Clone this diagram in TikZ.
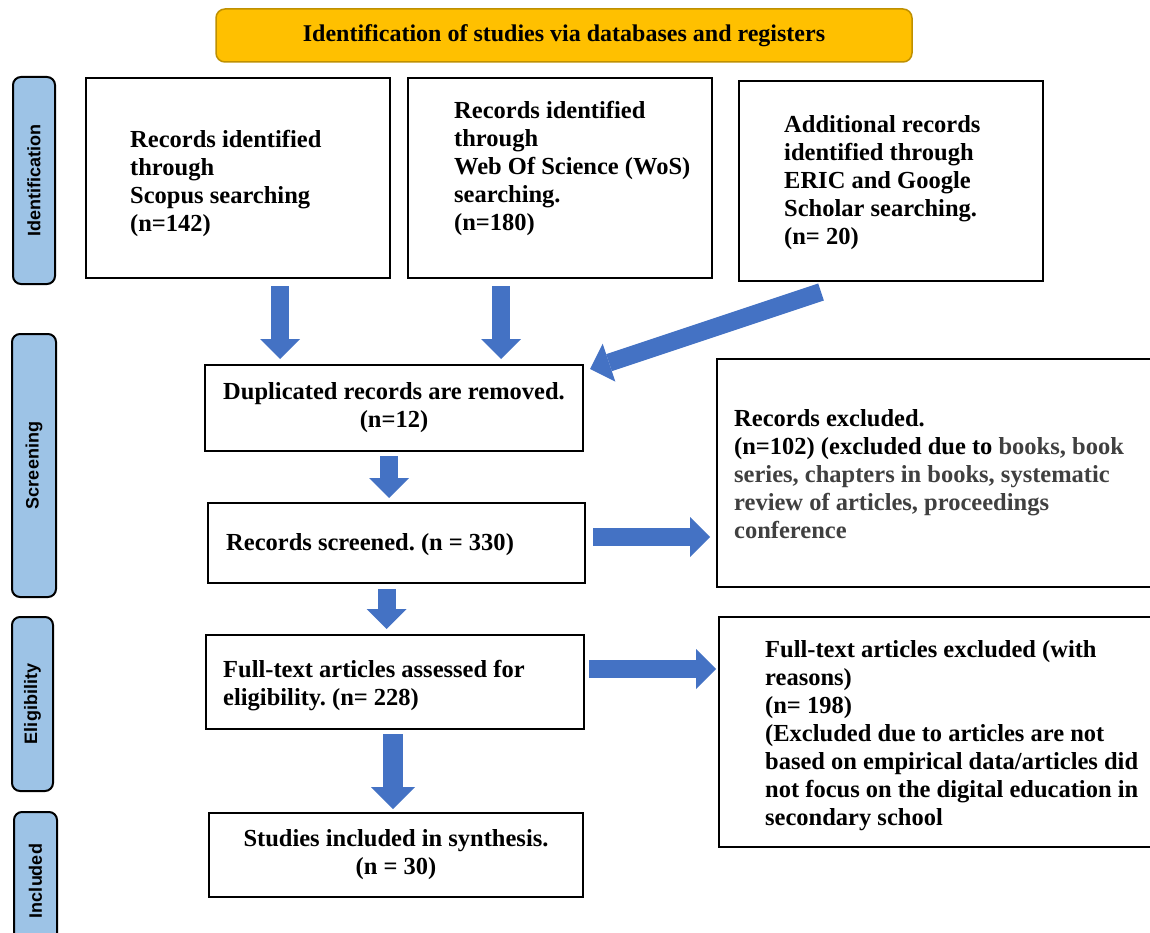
\documentclass[tikz,border=0pt]{standalone}
\usepackage{fontspec}
\setmainfont{Liberation Serif}
\setsansfont{Liberation Sans}
\frenchspacing
\usepackage{tikz}
\usetikzlibrary{arrows.meta,calc,positioning}
\definecolor{bannerfill}{HTML}{FFC000}
\definecolor{bannerdraw}{HTML}{BF9000}
\definecolor{phasefill}{HTML}{9DC3E6}
\definecolor{flowblue}{HTML}{4472C4}
\definecolor{softblack}{HTML}{404040}
\tikzset{
  banner/.style={
    draw=bannerdraw,
    line width=1.5pt,
    fill=bannerfill,
    rounded corners=9pt,
    inner sep=0pt,
    minimum width=696pt,
    minimum height=53pt,
    font=\fontsize{24}{28}\selectfont\bfseries
  },
  phase/.style={
    draw=black,
    line width=2pt,
    fill=phasefill,
    rounded corners=8pt,
    rotate=90,
    inner sep=0pt,
    font=\sffamily\fontsize{18}{21}\selectfont\bfseries
  },
  box/.style={
    draw=black,
    line width=2pt,
    fill=white,
    inner sep=0pt,
    align=center,
    font=\fontsize{24.5}{28}\selectfont\bfseries
  },
  boxtext/.style={
    anchor=west,
    inner sep=0pt,
    align=left,
    font=\fontsize{24.5}{28}\selectfont\bfseries
  },
  flow/.style={
    line width=18pt,
    draw=flowblue,
    -{Triangle[length=20pt,width=40pt,line width=0pt]}
  },
  flow wide/.style={
    line width=20pt,
    draw=flowblue,
    -{Triangle[length=22pt,width=44pt,line width=0pt]}
  }
}
\begin{document}
\begin{tikzpicture}[x=1pt,y=-1pt]
  \useasboundingbox (0,0) rectangle (1150,933);
  \clip (0,0) rectangle (1150,933);

  % title banner
  \node[banner] (title) at (564,35.5) {Identification of studies via databases and registers};

  % phase labels on the left
  \node[phase, minimum width=207pt, minimum height=42pt] (ident) at (34,180.5) {Identification};
  \node[phase, minimum width=263pt, minimum height=44pt] (screen) at (34,465.5) {Screening};
  \node[phase, minimum width=174pt, minimum height=41pt] (elig) at (32.5,704) {Eligibility};
  \node[phase, minimum width=138pt, minimum height=43pt] (incl) at (35.5,881) {Included};

  % source boxes
  \node[box, minimum width=304pt, minimum height=200pt] (scopus) at (238,178) {};
  \node[boxtext] (scopus text) at (130,183) {Records identified\\through\\Scopus searching\\(n=142)};
  \node[box, minimum width=304pt, minimum height=200pt] (wos) at (560,178) {};
  \node[boxtext] (wos text) at (454,168) {Records identified\\through\\Web Of Science (WoS)\\searching.\\(n=180)};
  \node[box, minimum width=304pt, minimum height=200pt] (eric) at (891,181) {};
  \node[boxtext] (eric text) at (784,183) {Additional records\\identified through\\ERIC and Google\\Scholar searching.\\(n= 20)};

  % screening
  \node[box, minimum width=378pt, minimum height=86pt] (dup) at (394,408) {Duplicated records are removed.\\(n=12)};
  \node[box, minimum width=377pt, minimum height=80pt] (screened) at (396.5,543) {};
  \node[boxtext] (screened text) at (226,545) {Records screened. (n = 330)};
  \node[box, minimum width=443pt, minimum height=228pt] (excl1) at (938.5,473) {};
  \node[boxtext] (excl1 text) at (734,474) {Records excluded.\\(n=102) (excluded due to \textcolor{softblack}{books, book}\\\textcolor{softblack}{series, chapters in books, systematic}\\\textcolor{softblack}{review of articles, proceedings}\\\textcolor{softblack}{conference}};

  % eligibility and included
  \node[box, minimum width=378pt, minimum height=94pt] (fulltext) at (395,682) {};
  \node[boxtext] (fulltext text) at (223,686) {Full-text articles assessed for\\eligibility. (n= 228)};
  \node[box, minimum width=441pt, minimum height=230pt] (excl2) at (939.5,732) {};
  \node[boxtext] (excl2 text) at (765,736) {Full-text articles excluded (with\\reasons)\\(n= 198)\\(Excluded due to articles are not\\based on empirical data/articles did\\not focus on the digital education in\\secondary school};
  \node[box, minimum width=374pt, minimum height=84pt] (studies) at (396,855) {Studies included in synthesis.\\(n = 30)};

  % block arrows
  \draw[flow, shorten <=7pt, shorten >=5pt] ([xshift=42pt]scopus.south) -- ([xshift=42pt]scopus.south |- dup.north);
  \draw[flow, shorten <=7pt, shorten >=5pt] ([xshift=-59pt]wos.south) -- ([xshift=-59pt]wos.south |- dup.north);
  \draw[flow] ([shift={(83pt,-10pt)}]eric.south west) -- ([shift={(6pt,-5pt)}]dup.north east);
  \draw[flow, shorten <=4pt, shorten >=4pt] ([xshift=-5pt]dup.south) -- ([xshift=-5pt]dup.south |- screened.north);
  \draw[flow, shorten <=7pt, shorten >=6pt] ([yshift=6pt]screened.east) -- ([yshift=6pt]screened.east -| excl1.west);
  \draw[flow, shorten <=5pt, shorten >=5pt] ([xshift=-10pt]screened.south) -- ([xshift=-10pt]screened.south |- fulltext.north);
  \draw[flow, shorten <=4pt, shorten >=2pt] ([yshift=13pt]fulltext.east) -- ([yshift=13pt]fulltext.east -| excl2.west);
  \draw[flow wide, shorten <=4pt, shorten >=3pt] ([xshift=-2pt]fulltext.south) -- ([xshift=-2pt]fulltext.south |- studies.north);
\end{tikzpicture}
\end{document}
